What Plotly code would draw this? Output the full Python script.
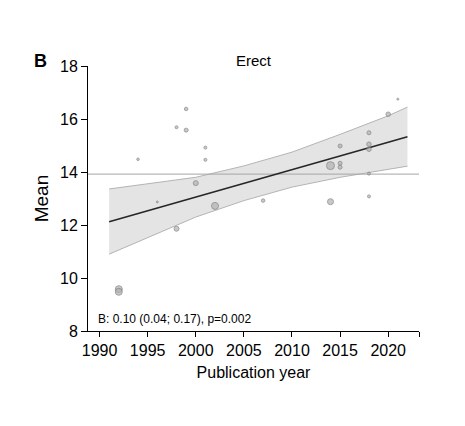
import plotly.graph_objects as go

# study points (publication year, mean, marker size)
years = [1992, 1992, 1994, 1996, 1998, 1998, 1999, 1999, 2000, 2001, 2001, 2002,
         2007, 2014, 2014, 2015, 2015, 2015, 2018, 2018, 2018, 2018, 2018, 2020, 2021]
means = [9.58, 9.48, 14.48, 12.87, 15.69, 11.86, 16.38, 15.58, 13.58, 14.92, 14.46, 12.72,
         12.92, 14.24, 12.88, 14.98, 14.33, 14.18, 15.48, 15.05, 14.86, 13.94, 13.08, 16.18, 16.75]
sizes = [7, 7, 2.5, 2, 3, 5, 3.5, 4, 5, 3, 3, 7,
         3.5, 8, 6, 4, 4, 4, 4, 4.5, 4.5, 3, 3, 4.5, 2]

# fitted line and confidence band
fit_years = [1991, 1995, 2000, 2005, 2010, 2015, 2020, 2022]
fit_mean = [12.12, 12.53, 13.05, 13.57, 14.09, 14.60, 15.12, 15.33]
ci_upper = [13.36, 13.55, 13.80, 14.23, 14.75, 15.42, 16.12, 16.45]
ci_lower = [10.90, 11.52, 12.30, 12.92, 13.43, 13.80, 14.12, 14.22]

overall_mean = 13.92
x_range = [1988.8, 2023.2]

font = "Liberation Sans, Arial, sans-serif"

fig = go.Figure()

fig.add_trace(go.Scatter(x=fit_years, y=ci_lower, mode="lines",
                         line=dict(color="#b4b4b4", width=1), hoverinfo="skip"))
fig.add_trace(go.Scatter(x=fit_years, y=ci_upper, mode="lines", fill="tonexty",
                         fillcolor="#e4e4e4",
                         line=dict(color="#b4b4b4", width=1), hoverinfo="skip"))

fig.add_trace(go.Scatter(x=x_range, y=[overall_mean, overall_mean], mode="lines",
                         line=dict(color="#a6a6a6", width=1), hoverinfo="skip"))

fig.add_trace(go.Scatter(x=fit_years, y=fit_mean, mode="lines",
                         line=dict(color="#262626", width=1.6)))

fig.add_trace(go.Scatter(x=years, y=means, mode="markers",
                         marker=dict(size=sizes, color="#b2b2b2",
                                     line=dict(color="#7c7c7c", width=1))))

# page body has an 8px margin, so the figure is a bit smaller than the window
fig.update_layout(
    width=457, height=418,
    margin=dict(l=80, r=46, t=58, b=95),
    paper_bgcolor="white", plot_bgcolor="white",
    showlegend=False,
    font=dict(family=font, size=16, color="black"),
)

tickvals = [1990, 1995, 2000, 2005, 2010, 2015, 2020, x_range[1]]
ticktext = ["1990", "1995", "2000", "2005", "2010", "2015", "2020", ""]

fig.update_xaxes(range=x_range, tickvals=tickvals, ticktext=ticktext,
                 showgrid=False, zeroline=False, showline=True,
                 linecolor="black", linewidth=1, ticks="outside", ticklen=5,
                 tickcolor="black",
                 title=dict(text="Publication year", standoff=8, font=dict(size=16)))
fig.update_yaxes(range=[8, 18], tickvals=[8, 10, 12, 14, 16, 18],
                 showgrid=False, zeroline=False, showline=True,
                 linecolor="black", linewidth=1, ticks="outside", ticklen=6,
                 tickcolor="black", title=dict(text="Mean", standoff=6))

fig.add_annotation(text="Erect", x=0.5, xref="paper", y=1.0, yref="paper",
                   yanchor="bottom", yshift=-5, showarrow=False,
                   font=dict(size=15))
fig.add_annotation(text="<b>B</b>", x=-0.145, xref="paper", y=1.019, yref="paper",
                   xanchor="center", yanchor="middle",
                   showarrow=False, font=dict(size=18))
fig.add_annotation(text="B: 0.10 (0.04; 0.17), p=0.002", x=0.025, xref="paper",
                   y=8.45, yref="y", xanchor="left", showarrow=False,
                   font=dict(size=12))

fig.write_html("out.html")
